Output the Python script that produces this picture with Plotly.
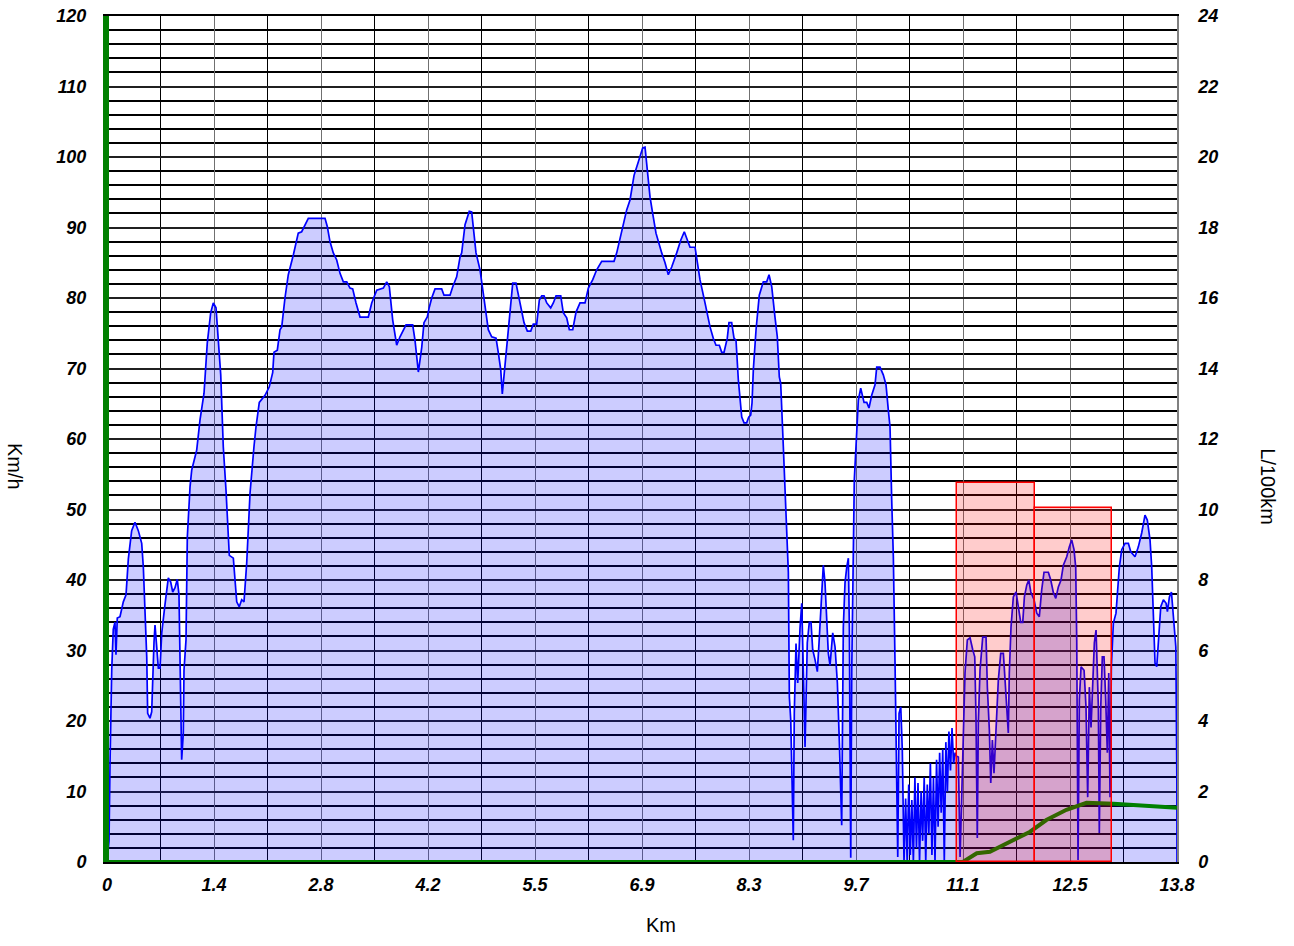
import plotly.graph_objects as go

# ---------------- data ----------------
dist_km = [
    0.000, 0.026, 0.039, 0.052, 0.061, 0.081, 0.103, 0.116, 0.133, 0.168,
    0.211, 0.246, 0.276, 0.319, 0.362, 0.405, 0.449, 0.470, 0.492, 0.514,
    0.526, 0.556, 0.578, 0.591, 0.608, 0.621, 0.643, 0.664, 0.686, 0.708,
    0.750, 0.793, 0.824, 0.850, 0.880, 0.909, 0.931, 0.944, 0.966, 0.987,
    0.996, 1.022, 1.039, 1.074, 1.096, 1.160, 1.203, 1.255, 1.297, 1.341,
    1.375, 1.410, 1.440, 1.471, 1.504, 1.539, 1.582, 1.634, 1.678, 1.711,
    1.742, 1.772, 1.807, 1.850, 1.901, 1.927, 1.970, 2.044, 2.099, 2.143,
    2.160, 2.203, 2.238, 2.260, 2.302, 2.345, 2.410, 2.474, 2.518, 2.561,
    2.604, 2.820, 2.850, 2.884, 2.927, 2.971, 3.014, 3.057, 3.101, 3.143,
    3.178, 3.221, 3.273, 3.380, 3.424, 3.489, 3.574, 3.618, 3.652, 3.695,
    3.747, 3.790, 3.825, 3.868, 3.954, 3.984, 4.027, 4.071, 4.100, 4.143,
    4.169, 4.200, 4.243, 4.329, 4.359, 4.437, 4.472, 4.523, 4.566, 4.588,
    4.631, 4.686, 4.717, 4.773, 4.825, 4.867, 4.902, 4.932, 4.976, 5.032,
    5.062, 5.093, 5.113, 5.148, 5.191, 5.248, 5.290, 5.342, 5.394, 5.437,
    5.481, 5.514, 5.558, 5.592, 5.623, 5.653, 5.688, 5.739, 5.773, 5.808,
    5.869, 5.902, 5.946, 5.980, 6.024, 6.067, 6.118, 6.183, 6.226, 6.283,
    6.334, 6.399, 6.558, 6.593, 6.645, 6.687, 6.722, 6.765, 6.817, 6.872,
    6.929, 6.959, 6.989, 7.024, 7.058, 7.101, 7.175, 7.218, 7.260, 7.304,
    7.369, 7.421, 7.467, 7.498, 7.541, 7.606, 7.670, 7.735, 7.800, 7.842,
    7.877, 7.920, 7.951, 7.981, 8.023, 8.045, 8.080, 8.110, 8.136, 8.166,
    8.210, 8.240, 8.274, 8.300, 8.326, 8.343, 8.360, 8.395, 8.437, 8.489,
    8.533, 8.563, 8.598, 8.640, 8.670, 8.696, 8.714, 8.748, 8.800, 8.813,
    8.826, 8.844, 8.877, 8.890, 8.912, 8.934, 8.964, 8.986, 9.007, 9.029,
    9.058, 9.084, 9.106, 9.128, 9.158, 9.188, 9.210, 9.236, 9.265, 9.287,
    9.309, 9.330, 9.352, 9.387, 9.417, 9.447, 9.473, 9.503, 9.524, 9.546,
    9.568, 9.589, 9.602, 9.620, 9.633, 9.653, 9.666, 9.697, 9.718, 9.749,
    9.792, 9.827, 9.856, 9.891, 9.934, 9.956, 9.998, 10.041, 10.076, 10.106,
    10.128, 10.150, 10.171, 10.193, 10.215, 10.228, 10.245, 10.267, 10.287, 10.309,
    10.33, 10.35, 10.37, 10.39, 10.41, 10.43, 10.45, 10.47, 10.49, 10.51,
    10.53, 10.55, 10.57, 10.59, 10.61, 10.63, 10.65, 10.67, 10.69, 10.71,
    10.73, 10.75, 10.77, 10.79, 10.81, 10.83, 10.85, 10.87, 10.89, 10.91,
    10.93, 10.95, 10.97, 10.99, 11.012, 11.034, 11.069, 11.098, 11.128, 11.163,
    11.198, 11.224, 11.240, 11.257, 11.270, 11.292, 11.327, 11.370, 11.387, 11.413,
    11.431, 11.452, 11.473, 11.508, 11.529, 11.560, 11.594, 11.616, 11.638, 11.658,
    11.671, 11.693, 11.723, 11.758, 11.788, 11.819, 11.845, 11.866, 11.897, 11.923,
    11.949, 11.991, 12.026, 12.059, 12.090, 12.120, 12.176, 12.207, 12.241, 12.272,
    12.305, 12.340, 12.370, 12.414, 12.447, 12.478, 12.508, 12.530, 12.543, 12.560,
    12.577, 12.599, 12.638, 12.663, 12.685, 12.706, 12.728, 12.750, 12.771, 12.793,
    12.810, 12.823, 12.835, 12.854, 12.874, 12.896, 12.918, 12.939, 12.957, 12.974,
    12.991, 13.017, 13.051, 13.068, 13.094, 13.125, 13.168, 13.211, 13.242, 13.297,
    13.340, 13.384, 13.426, 13.456, 13.491, 13.513, 13.534, 13.556, 13.578, 13.599,
    13.630, 13.664, 13.699, 13.716, 13.742, 13.768, 13.789, 13.811, 13.825, 13.838,
    13.840,
]

speed_kmh = [
    0.0, 3.0, 14.0, 25.0, 27.2, 33.0, 34.0, 29.4, 34.6, 34.8,
    36.9, 37.9, 43.0, 47.0, 48.2, 47.0, 45.2, 41.8, 34.8, 29.1,
    21.1, 20.4, 21.3, 27.2, 31.2, 33.6, 30.8, 27.5, 27.5, 32.5,
    36.5, 40.3, 39.7, 38.3, 38.9, 40.1, 37.9, 30.5, 14.5, 18.3,
    27.2, 31.5, 46.1, 53.2, 55.6, 58.4, 62.7, 66.5, 73.6, 77.9,
    79.3, 78.6, 73.6, 69.1, 58.9, 52.8, 43.5, 43.1, 36.9, 36.2,
    37.2, 36.9, 42.4, 52.3, 58.9, 61.7, 65.2, 66.2, 67.4, 69.4,
    72.3, 72.6, 75.5, 75.9, 80.0, 83.3, 86.1, 89.2, 89.4, 90.4,
    91.3, 91.3, 90.1, 88.0, 86.4, 85.4, 83.5, 82.3, 82.3, 81.4,
    81.3, 79.3, 77.3, 77.3, 79.3, 81.1, 81.4, 82.3, 81.6, 76.9,
    73.3, 74.5, 75.2, 76.2, 76.2, 74.0, 69.5, 73.0, 76.5, 77.3,
    78.7, 80.0, 81.3, 81.3, 80.4, 80.4, 81.6, 83.0, 85.8, 86.4,
    90.4, 92.3, 92.2, 86.4, 84.0, 80.7, 78.3, 75.5, 74.5, 74.3,
    72.2, 69.8, 66.4, 70.2, 75.0, 82.1, 82.1, 79.3, 76.5, 75.3,
    75.3, 76.3, 76.3, 79.7, 80.3, 80.3, 79.3, 78.6, 79.3, 80.3,
    80.3, 77.9, 77.2, 75.5, 75.5, 78.0, 79.3, 79.3, 81.4, 82.6,
    84.0, 85.2, 85.2, 86.4, 88.7, 90.6, 92.5, 93.9, 97.4, 99.3,
    101.3, 101.4, 97.7, 94.3, 92.0, 89.2, 86.4, 85.0, 83.3, 84.4,
    86.4, 88.2, 89.4, 88.5, 87.2, 87.2, 82.6, 79.3, 75.9, 74.3,
    73.3, 73.3, 72.3, 72.3, 74.3, 76.5, 76.5, 74.3, 74.0, 68.4,
    63.1, 62.3, 62.3, 63.1, 63.4, 65.1, 69.8, 75.5, 80.4, 82.3,
    82.3, 83.3, 81.6, 77.3, 74.5, 68.8, 67.9, 58.9, 44.3, 41.1,
    23.4, 20.1, 3.1, 21.1, 31.0, 25.4, 33.2, 36.7, 27.2, 16.3,
    31.1, 34.0, 34.0, 30.1, 28.7, 27.0, 31.1, 37.2, 42.1, 39.6,
    35.3, 29.6, 27.9, 32.5, 30.5, 25.4, 16.9, 5.2, 33.3, 39.6,
    41.8, 43.1, 33.3, 0.6, 27.2, 41.8, 54.2, 60.9, 65.5, 67.2,
    65.2, 65.2, 64.4, 66.2, 67.7, 70.2, 70.2, 69.1, 67.7, 64.1,
    61.7, 51.3, 43.3, 28.2, 10.6, 0.7, 21.1, 22.0, 15.9, 0.0,
    9.0, 0.0, 11.0, 1.0, 8.8, 0.0, 12.0, 2.0, 11.2, 0.0,
    10.0, 3.0, 12.0, 0.0, 11.0, 4.0, 14.0, 1.0, 12.0, 0.0,
    14.5, 5.0, 15.5, 7.0, 16.0, 0.0, 17.0, 10.0, 18.5, 13.0,
    19.0, 14.0, 15.5, 15.0, 14.9, 0.7, 14.9, 26.8, 31.5, 31.8,
    30.1, 29.1, 20.6, 3.4, 19.7, 27.2, 31.9, 31.9, 24.8, 18.7,
    11.2, 17.3, 12.6, 22.0, 25.8, 29.6, 29.6, 25.8, 22.0, 18.3,
    26.8, 33.3, 37.6, 38.3, 36.2, 34.0, 34.0, 37.6, 39.3, 40.0,
    38.3, 37.2, 35.3, 34.8, 38.6, 41.1, 41.1, 40.0, 38.2, 37.4,
    39.0, 40.0, 42.1, 43.3, 44.7, 45.7, 44.3, 41.8, 31.5, 0.3,
    23.0, 27.7, 27.2, 22.0, 9.2, 24.8, 19.1, 26.8, 31.1, 32.9,
    25.8, 22.0, 4.1, 22.0, 29.1, 29.1, 23.0, 15.5, 26.8, 9.2,
    27.7, 33.9, 35.3, 38.6, 41.8, 44.3, 45.2, 45.2, 44.0, 43.3,
    44.7, 46.7, 49.2, 48.5, 45.7, 41.8, 36.2, 28.2, 27.7, 31.9,
    36.2, 37.2, 36.7, 35.5, 37.6, 38.3, 35.3, 32.9, 30.5, 12.1,
    0.0,
]

# consumption line (right axis, L/100km)
cons_km = [0.0, 0.0, 11.07, 11.25, 11.42, 11.72, 11.94, 12.15, 12.41, 12.67, 13.02, 13.84]
cons_l100 = [24.0, 0.0, 0.0, 0.25, 0.29, 0.62, 0.86, 1.19, 1.48, 1.68, 1.65, 1.54]

# per-km consumption bars (right axis)
bar_center_km = [11.5, 12.5]
bar_l100 = [10.75, 10.05]
bar_width_km = [1.0, 1.0]

x_tick_vals = [0, 1.384, 2.768, 4.152, 5.536, 6.92, 8.304, 9.688, 11.072, 12.456, 13.84]
x_tick_text = ["0", "1.4", "2.8", "4.2", "5.5", "6.9", "8.3", "9.7", "11.1", "12.5", "13.8"]
y_left_ticks = [0, 10, 20, 30, 40, 50, 60, 70, 80, 90, 100, 110, 120]
y_right_ticks = [0, 2, 4, 6, 8, 10, 12, 14, 16, 18, 20, 22, 24]

# ---------------- figure ----------------
FONT = "Liberation Sans, Arial, sans-serif"
tickfont = dict(family=FONT, size=18, color="black")


def bi(labels):
    return ["<b><i>%s</i></b>" % t for t in labels]


fig = go.Figure()

fig.add_trace(go.Scatter(
    x=dist_km, y=speed_kmh, mode="lines",
    line=dict(color="#0000ff", width=1.7),
    fill="tozeroy", fillcolor="rgba(0,0,255,0.2)",
    yaxis="y", showlegend=False, hoverinfo="skip",
))

fig.add_trace(go.Scatter(
    x=cons_km, y=cons_l100, mode="lines",
    line=dict(color="#008000", width=4),
    yaxis="y2", showlegend=False, hoverinfo="skip",
))

fig.add_trace(go.Bar(
    x=bar_center_km, y=bar_l100, width=bar_width_km,
    marker=dict(color="rgba(255,0,0,0.2)", line=dict(color="#ff0000", width=1.5)),
    yaxis="y3", showlegend=False, hoverinfo="skip",
))

minor_x = [v + 0.692 for v in x_tick_vals[:-1]]

fig.update_layout(
    width=1294, height=946,
    margin=dict(l=107, r=117, t=16, b=84, autoexpand=False),
    paper_bgcolor="white", plot_bgcolor="white",
    bargap=0,
    xaxis=dict(
        range=[0, 13.84], tickmode="array", tickvals=x_tick_vals, ticktext=bi(x_tick_text),
        tickfont=tickfont, showgrid=True, gridcolor="#707070", gridwidth=1.3,
        minor=dict(tickmode="array", tickvals=minor_x, showgrid=True,
                   gridcolor="#000000", gridwidth=1.2),
        showline=True, linecolor="#000000", linewidth=1.5, mirror=True,
        ticks="", ticklabelstandoff=6, zeroline=False, automargin=False,
    ),
    yaxis=dict(
        range=[0, 120], tickmode="array", tickvals=y_left_ticks,
        ticktext=bi([str(v) for v in y_left_ticks]),
        tickfont=tickfont, showgrid=True, gridcolor="#202020", gridwidth=1.5,
        minor=dict(tickmode="linear", tick0=0, dtick=2, showgrid=True,
                   gridcolor="#000000", gridwidth=1.5),
        showline=True, linecolor="#008000", linewidth=4, mirror=False,
        ticks="", ticklabelstandoff=13, zeroline=False, automargin=False,
    ),
    yaxis2=dict(
        range=[0, 24], overlaying="y", side="right", tickmode="array",
        tickvals=y_right_ticks, ticktext=bi([str(v) for v in y_right_ticks]),
        tickfont=tickfont, showgrid=False, zeroline=False,
        ticks="", ticklabelstandoff=16, showline=True, linecolor="#808080",
        linewidth=1.5, automargin=False,
    ),
    yaxis3=dict(
        range=[0, 24], overlaying="y", side="right", visible=False,
        showgrid=False, zeroline=False,
    ),
    annotations=[
        dict(text="Km", xref="paper", yref="paper", x=0.518, y=-0.0745,
             showarrow=False, font=dict(family=FONT, size=20, color="black"),
             xanchor="center", yanchor="middle"),
        dict(text="Km/h", xref="paper", yref="paper", x=-0.086, y=0.467,
             showarrow=False, textangle=90,
             font=dict(family=FONT, size=20, color="black"),
             xanchor="center", yanchor="middle"),
        dict(text="L/100km", xref="paper", yref="paper", x=1.085, y=0.443,
             showarrow=False, textangle=90,
             font=dict(family=FONT, size=20, color="black"),
             xanchor="center", yanchor="middle"),
    ],
)

fig.write_html("out.html")
